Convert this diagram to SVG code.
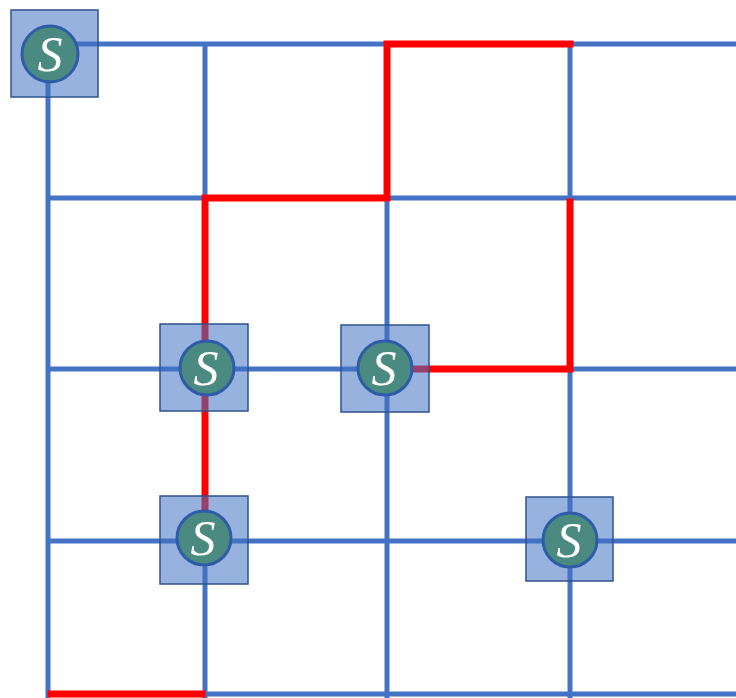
<svg xmlns="http://www.w3.org/2000/svg" width="736" height="698" viewBox="0 0 736 698">
<style>
.grid{stroke:#4472C4;stroke-width:5;fill:none}
.red{stroke:#FF0000;stroke-width:7;fill:none;stroke-linejoin:miter;stroke-linecap:square}
.box{fill:#4472C4;fill-opacity:0.55;stroke:#2F528F;stroke-width:1.5}
.circ{fill:#4A8A80;stroke:#2F5CA8;stroke-width:3}
.s{font-family:"Liberation Serif",serif;font-style:italic;font-size:50px;fill:#FFFFFF;text-anchor:middle}
</style>
<rect width="736" height="698" fill="#FFFFFF"/>
<g id="connectors">
<g class="grid">
<line x1="48" y1="44" x2="736" y2="44"/>
<line x1="48" y1="198" x2="736" y2="198"/>
<line x1="48" y1="369" x2="736" y2="369"/>
<line x1="48" y1="541" x2="736" y2="541"/>
<line x1="205" y1="694" x2="736" y2="694"/>
<line x1="48" y1="44" x2="48" y2="698"/>
<line x1="205" y1="44" x2="205" y2="698"/>
<line x1="387" y1="44" x2="387" y2="698"/>
<line x1="570" y1="44" x2="570" y2="698"/>
</g>
<g class="red">
<polyline points="570,44 387,44 387,198 205,198 205,510"/>
<polyline points="570,202 570,369 415,369"/>
<line x1="51" y1="694" x2="202" y2="694"/>
</g>
</g>
<g id="node-s1">
<rect class="box" x="11" y="10" width="87" height="87"/>
<circle class="circ" cx="50" cy="54" r="28"/>
<text class="s" x="50" y="71">S</text>
</g>
<g id="node-s2">
<rect class="box" x="160" y="324" width="88" height="87"/>
<circle class="circ" cx="207" cy="368" r="27"/>
<text class="s" x="206" y="385">S</text>
</g>
<g id="node-s3">
<rect class="box" x="341" y="325" width="88" height="87"/>
<circle class="circ" cx="385" cy="368" r="27"/>
<text class="s" x="384" y="385">S</text>
</g>
<g id="node-s4">
<rect class="box" x="160" y="496" width="88" height="88"/>
<circle class="circ" cx="204" cy="538" r="27"/>
<text class="s" x="203" y="555">S</text>
</g>
<g id="node-s5">
<rect class="box" x="526" y="497" width="87" height="84"/>
<circle class="circ" cx="570" cy="540" r="27"/>
<text class="s" x="569" y="557">S</text>
</g>
</svg>
